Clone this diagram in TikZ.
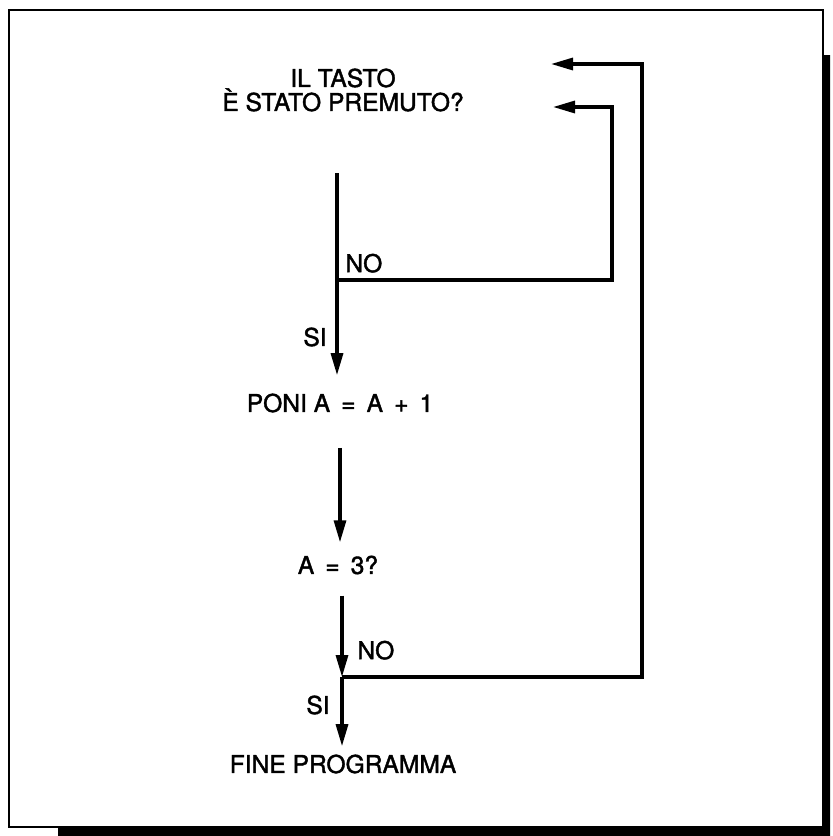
\documentclass[tikz,border=0pt]{standalone}
\usepackage{fontspec}
\setmainfont{TeX Gyre Heros}[RawFeature={embolden=1.6}]
\usetikzlibrary{arrows.meta, positioning}

\begin{document}
\begin{tikzpicture}[x=0.5pt, y=-0.5pt,
  txt/.style={font=\fontsize{12.3}{12}\selectfont, inner sep=0pt, align=center},
  lbl/.style={font=\fontsize{12.3}{12}\selectfont, inner sep=0pt},
  wire/.style={line width=1.6pt},
  arr/.style={-{Triangle[length=11pt, width=6pt]}, line width=1.6pt}
]
\useasboundingbox (0,0) rectangle (833,836);
% frame and shadow
\fill (823,55) -- (830,55) -- (830,836) -- (58,836) -- (58,827) -- (823,827) -- cycle;
\draw[line width=1pt] (9,10) rectangle (823,827);

\node[txt] (q) at (343,90) {IL TASTO\\È STATO PREMUTO?};
\node[txt] (poni) at (340,403) {PONI A\hspace{0.45em}=\hspace{0.45em}A\hspace{0.45em}+\hspace{0.45em}1};
\node[txt] (test) at (338,565) {A\hspace{0.45em}=\hspace{0.45em}3?};
\node[txt] (fine) at (343,764) {FINE PROGRAMMA};

\coordinate (top) at (337,173);
\coordinate (j1) at (337,280);
\coordinate (c1) at (612,280);
\coordinate (c2) at (612,107);
\coordinate (in1) at (553,107);
\coordinate (j2) at (342,677);
\coordinate (c3) at (642,677);
\coordinate (c4) at (642,64);
\coordinate (in2) at (551,64);

\draw[wire] (top) -- (j1);
\draw[arr, shorten >=9pt] (j1) -- (j1 |- poni.north);
\draw[arr, shorten <=17.5pt, shorten >=6.5pt] (poni.south) -- (poni.south |- test.north);
\draw[arr, shorten <=10.5pt] (test.south -| j2) -- (j2);
\draw[arr, shorten >=4pt] (j2) -- (j2 |- fine.north);
% back to the question
\draw[arr] (j1) -- (c1) -- (c2) -- (in1);
\draw[arr] (j2) -- (c3) -- (c4) -- (in2);

\node[lbl, above right=3.5pt and 4pt of j1] (no1) {NO};
\node[lbl] (si1) at (315,337) {SI};
\node[lbl, above right=8.5pt and 7.5pt of j2] (no2) {NO};
\node[lbl] (si2) at (318,705) {SI};
\end{tikzpicture}
\end{document}
